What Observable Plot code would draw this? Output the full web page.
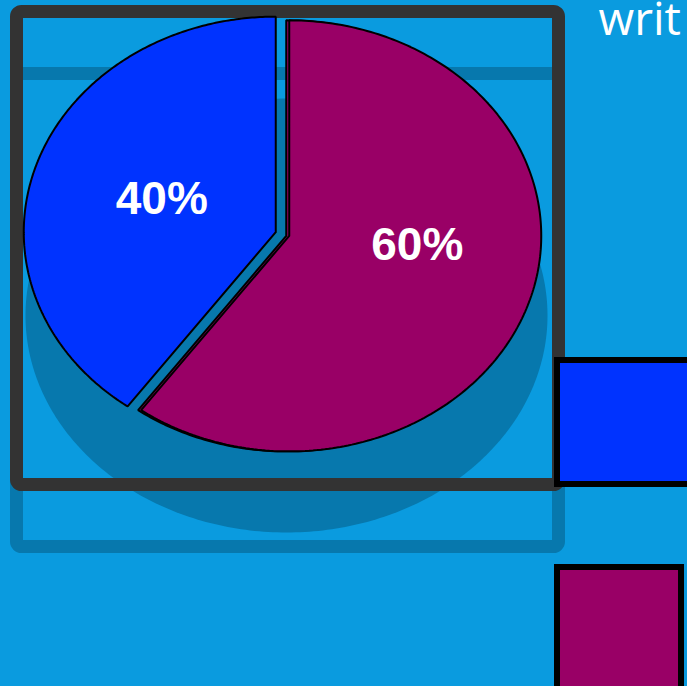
<!DOCTYPE html>
<html><head><meta charset="utf-8">
<script src="https://cdn.jsdelivr.net/npm/d3@7"></script>
<script src="https://cdn.jsdelivr.net/npm/@observablehq/plot@0.6"></script>
<style>html,body{margin:0;padding:0;background:#0a9bdf;overflow:hidden}#chart svg{display:block}</style>
</head><body><div id="chart"></div>
<script>
// ---- data ----
const categories = ["Series 1", "Series 2"];
const values = [40, 60];
const colors = ["#0033ff", "#990066"];
const titleText = "writ";

// ---- layout ----
const W = 687, H = 686;
const BG = "#0a9bdf", SHADOW = "#0778ad", FRAME = "#333333";
const C = {x: 282, y: 233.5}, RX = 252, RY = 215.5, EXPLODE = 7;
const SH = {x: 286, y: 315, rx: 261, ry: 217};
const FR = {x1: 16.5, y1: 11.5, x2: 558.5, y2: 484.5, sw: 13, shadowDy: 62};
const LEG = {x: 557, y: 360, size: 124, step: 207, sw: 6, widths: [140, 124]};

const total = d3.sum(values);
const start = -2 * Math.PI * values[0] / total;
const arcs = d3.pie().sort(null).startAngle(start).endAngle(start + 2 * Math.PI)(values);

function arcPts(cx, cy, rx, ry, a0, a1, n) {
  const pts = [];
  for (let i = 0; i <= n; i++) {
    const a = a0 + (a1 - a0) * i / n;
    pts.push({x: cx + rx * Math.sin(a), y: cy - ry * Math.cos(a)});
  }
  return pts;
}

const slices = arcs.map((a, i) => {
  const mid = (a.startAngle + a.endAngle) / 2;
  const dx = RX * Math.sin(mid), dy = -RY * Math.cos(mid);
  const len = Math.hypot(dx, dy);
  const cx = C.x + EXPLODE * dx / len, cy = C.y + EXPLODE * dy / len;
  const pts = [{x: cx, y: cy}, ...arcPts(cx, cy, RX, RY, a.startAngle, a.endAngle, 240), {x: cx, y: cy}];
  return {
    i, pts, color: colors[i],
    label: Math.round(values[i] / total * 100) + "%",
    lx: C.x + 7 + 0.533 * RX * Math.sin(mid),
    ly: C.y - 12 - 0.345 * RY * Math.cos(mid)
  };
});

const shadowPts = arcPts(SH.x, SH.y, SH.rx, SH.ry, 0, 2 * Math.PI, 360);

const marks = [
  // frame shadow
  Plot.rect([FR], {x1: d => d.x1, x2: d => d.x2, y1: d => d.y1 + d.shadowDy, y2: d => d.y2 + d.shadowDy,
    fill: "none", stroke: SHADOW, strokeWidth: FR.sw, rx: 5}),
  // pie shadow
  Plot.line(shadowPts, {x: "x", y: "y", fill: SHADOW, stroke: "none"}),
  // frame
  Plot.rect([FR], {x1: "x1", x2: "x2", y1: "y1", y2: "y2", fill: "none", stroke: FRAME, strokeWidth: FR.sw, rx: 5})
];

slices.forEach(s => {
  if (s.i === 1) {
    marks.push(Plot.line(s.pts, {x: d => d.x - 3, y: "y", fill: s.color, stroke: "black", strokeWidth: 2, strokeLinejoin: "miter"}));
  }
  marks.push(Plot.line(s.pts, {x: "x", y: "y", fill: s.color, stroke: "black", strokeWidth: 2, strokeLinejoin: "miter"}));
});

marks.push(
  Plot.text(slices, {x: "lx", y: "ly", text: "label", fill: "white", fontSize: 46, fontWeight: "bold",
    fontFamily: "Liberation Sans, Arial, sans-serif", textAnchor: "middle", lineAnchor: "middle"}),
  // legend squares
  Plot.rect(categories, {x1: () => LEG.x, x2: (d, i) => LEG.x + LEG.widths[i],
    y1: (d, i) => LEG.y + i * LEG.step, y2: (d, i) => LEG.y + i * LEG.step + LEG.size,
    fill: (d, i) => colors[i], stroke: "black", strokeWidth: LEG.sw}),
  // title
  Plot.text([titleText], {x: () => 598, y: () => 34, text: d => d, fill: "white", fontSize: 46,
    fontFamily: "Open Sans, sans-serif", textAnchor: "start", lineAnchor: "bottom"})
);

const chart = Plot.plot({
  width: W, height: H, margin: 0,
  x: {type: "linear", domain: [0, W], range: [0, W], axis: null},
  y: {type: "linear", domain: [0, H], range: [0, H], axis: null},
  color: {type: "identity"},
  style: {background: BG, overflow: "hidden"},
  marks
});
document.getElementById("chart").appendChild(chart);
</script>
</body></html>
